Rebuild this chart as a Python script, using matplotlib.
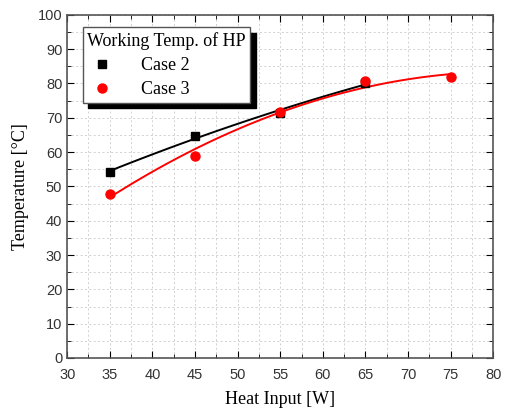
import numpy as np
import matplotlib
matplotlib.use("Agg")
import matplotlib.pyplot as plt
from matplotlib.ticker import MultipleLocator

# data
heat_case2 = [35, 45, 55, 65]
temp_case2 = [54.2, 64.8, 71.4, 80.0]
heat_case3 = [35, 45, 55, 65, 75]
temp_case3 = [47.8, 58.8, 71.8, 80.6, 81.8]

fig = plt.figure(figsize=(5.09, 4.11), dpi=100)
ax = fig.add_axes([0.132, 0.129, 0.837, 0.835])

# polynomial fits (2nd order) like the original
x2 = np.linspace(min(heat_case2), max(heat_case2), 100)
p2 = np.polyfit(heat_case2, temp_case2, 2)
x3 = np.linspace(min(heat_case3), max(heat_case3), 100)
p3 = np.polyfit(heat_case3, temp_case3, 2)

ax.plot(x2, np.polyval(p2, x2), color="black", lw=1.4, zorder=2)
ax.plot(x3, np.polyval(p3, x3), color="red", lw=1.4, zorder=2)
ax.plot(heat_case2, temp_case2, "s", color="black", ms=6, ls="none", label="Case 2", zorder=3)
ax.plot(heat_case3, temp_case3, "o", color="red", ms=6.5, ls="none", label="Case 3", zorder=3)

ax.set_xlim(30, 80)
ax.set_ylim(0, 100)
ax.xaxis.set_major_locator(MultipleLocator(5))
ax.xaxis.set_minor_locator(MultipleLocator(2.5))
ax.yaxis.set_major_locator(MultipleLocator(10))
ax.yaxis.set_minor_locator(MultipleLocator(5))
ax.grid(True, which="both", ls=(0, (2, 2.5)), color="#d0d0d0", lw=0.7, zorder=0)
ax.tick_params(which="both", direction="in", top=True, right=True, labelsize=10.5,
               labelcolor="#333333")
ax.tick_params(which="major", length=5)
ax.tick_params(which="minor", length=3)
ax.tick_params(axis="x", pad=7)
for lab in ax.get_xticklabels() + ax.get_yticklabels():
    lab.set_fontfamily("Liberation Sans")
for s in ax.spines.values():
    s.set_color("#555555")
    s.set_linewidth(1.2)

ax.set_xlabel("Heat Input [W]", family="Liberation Serif", fontsize=13, labelpad=7)
ax.set_ylabel("Temperature [°C]", family="Liberation Serif", fontsize=13, labelpad=6)

leg = ax.legend(title="Working Temp. of HP", loc="upper left", bbox_to_anchor=(0.015, 0.99),
                prop={"family": "Liberation Serif", "size": 13}, fancybox=False,
                shadow={"color": "black", "alpha": 1, "ox": 4, "oy": -4},
                framealpha=1, edgecolor="#555555", handletextpad=1.4, borderpad=0.25,
                labelspacing=0.4, handlelength=1.6)
leg.get_title().set_fontfamily("Liberation Serif")
leg.get_title().set_fontsize(13)
leg._legend_box.align = "left"

fig.savefig("out.png", dpi=100)
